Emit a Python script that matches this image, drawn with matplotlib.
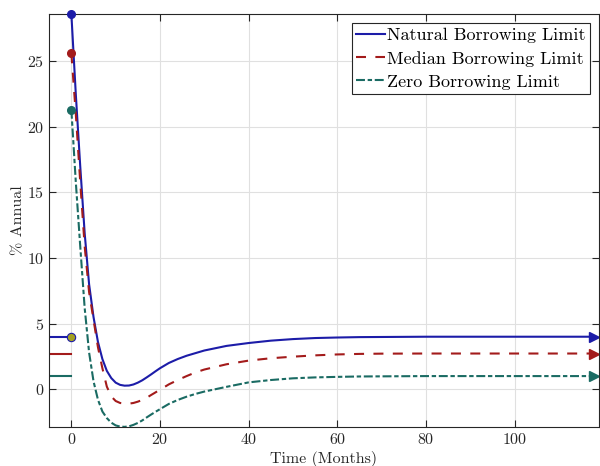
import matplotlib
matplotlib.use("Agg")
import matplotlib.pyplot as plt

plt.rcParams['font.family'] = 'serif'
plt.rcParams['font.serif'] = ['cmr10']
plt.rcParams['mathtext.fontset'] = 'cm'
plt.rcParams['axes.unicode_minus'] = False
plt.rcParams['axes.formatter.use_mathtext'] = True

# ---- data ----
months = [0, 1, 2, 3, 4, 5, 6, 7, 8, 9, 10, 11, 12, 13, 14, 15, 16, 17, 18, 19, 20,
          22, 24, 26, 28, 30, 35, 40, 45, 50, 55, 60, 65, 70, 80, 90, 100, 110, 118]
natural = [28.6, 22.5, 17.0, 11.9, 8.0, 5.5, 3.6, 2.3, 1.4, 0.85, 0.5, 0.33, 0.27, 0.28,
           0.36, 0.5, 0.68, 0.9, 1.13, 1.37, 1.6,
           2.0, 2.3, 2.55, 2.75, 2.95, 3.3, 3.52, 3.7, 3.82, 3.9, 3.94, 3.97, 3.98, 4.0,
           4.0, 4.0, 4.0, 4.0]
median = [25.6, 21.0, 15.8, 10.9, 7.4, 5.3, 3.2, 1.6, 0.2, -0.55, -0.9, -1.05, -1.1, -1.1,
          -1.05, -0.95, -0.82, -0.65, -0.44, -0.24, -0.04,
          0.37, 0.7, 1.0, 1.28, 1.5, 1.9, 2.18, 2.36, 2.48, 2.58, 2.65, 2.69, 2.71, 2.72,
          2.72, 2.72, 2.72, 2.72]
zero = [21.3, 15.8, 10.9, 6.2, 2.8, 0.6, -0.8, -1.7, -2.2, -2.55, -2.76, -2.85, -2.87, -2.83,
        -2.72, -2.57, -2.38, -2.15, -1.93, -1.72, -1.52,
        -1.12, -0.82, -0.57, -0.36, -0.18, 0.18, 0.52, 0.7, 0.83, 0.9, 0.94, 0.97, 0.98, 1.0,
        1.0, 1.0, 1.0, 1.0]
pre_months = [-5, 0]
steady = {'natural': 4.0, 'median': 2.72, 'zero': 1.0}
labels = ['Natural Borrowing Limit', 'Median Borrowing Limit', 'Zero Borrowing Limit']

c_blue = '#1c1ca8'
c_red = '#a31b1b'
c_teal = '#1a6b63'
c_olive = '#a3a020'

fig = plt.figure(figsize=(6.0, 4.66), dpi=100)
ax = fig.add_axes([0.082, 0.084, 0.916, 0.886])

lw = 1.5
# pre-shock steady states
ax.plot(pre_months, [steady['natural']] * 2, color=c_blue, lw=lw)
ax.plot(pre_months, [steady['median']] * 2, color=c_red, lw=lw)
ax.plot(pre_months, [steady['zero']] * 2, color=c_teal, lw=lw)

l1, = ax.plot(months, natural, color=c_blue, lw=lw, label=labels[0])
l2, = ax.plot(months, median, color=c_red, lw=lw, ls=(0, (4.8, 4.5)), label=labels[1])
l3, = ax.plot(months, zero, color=c_teal, lw=lw, ls=(0, (4.3, 1.3, 2.1, 1.3)), label=labels[2])

# arrows at the end
for ser, c in [(natural, c_blue), (median, c_red), (zero, c_teal)]:
    ax.plot([months[-1]], [ser[-1]], marker='>', color=c, ms=6.5, clip_on=False, ls='none')

# jump dots at t=0
ax.plot([months[0]], [natural[0]], 'o', color=c_blue, ms=5.5, clip_on=False, zorder=5)
ax.plot([months[0]], [median[0]], 'o', color=c_red, ms=5.5, clip_on=False, zorder=5)
ax.plot([months[0]], [zero[0]], 'o', color=c_teal, ms=5.5, clip_on=False, zorder=5)
ax.plot([pre_months[-1]], [steady['natural']], 'o', color=c_olive, mec=c_blue, mew=0.8,
        ms=6, zorder=6)

allv = natural + median + zero
ax.set_xlim(-5, 119)
ax.set_ylim(min(allv), max(allv))
ax.set_xticks([0, 20, 40, 60, 80, 100])
ax.set_yticks([0, 5, 10, 15, 20, 25])

ax.grid(True, color='#e0e0e0', lw=0.8)
ax.set_axisbelow(True)
ax.tick_params(direction='in', length=5, top=True, right=True, labelsize=11.5,
               colors='#262626', width=0.8)
for s in ax.spines.values():
    s.set_color('#262626')
    s.set_linewidth(0.8)

ax.set_xlabel('Time (Months)', fontsize=11.5, color='#262626', labelpad=3)
ax.set_ylabel('% Annual', fontsize=11.5, color='#262626', labelpad=1)

leg = ax.legend(handles=[l1, l2, l3], loc='upper right', fontsize=13, frameon=True,
                fancybox=False, framealpha=1, edgecolor='#262626', handlelength=1.6,
                handletextpad=0.1, labelspacing=0.42, borderpad=0.25,
                borderaxespad=0.5)
leg.get_frame().set_linewidth(0.8)

fig.savefig('out.png', dpi=100)
